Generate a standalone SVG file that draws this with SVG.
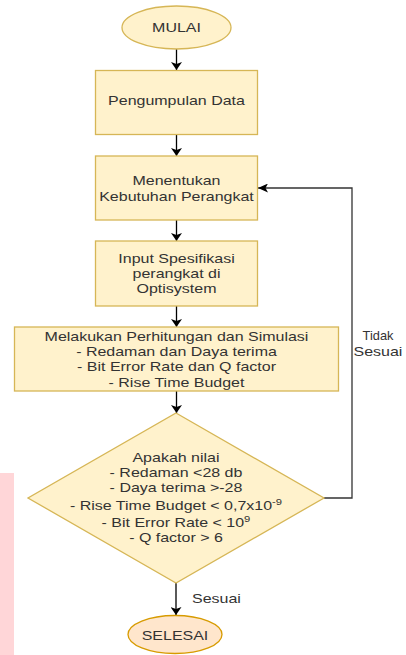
<svg xmlns="http://www.w3.org/2000/svg" width="406" height="655" viewBox="0 0 406 655">
<defs>
<style>
.n{fill:#fff2cc;stroke:#d6b656;stroke-width:1.3}
.e{fill:#ffe6cc;stroke:#d79b00;stroke-width:1.3}
.t{font-family:"Liberation Sans",Arial,sans-serif;font-size:12.8px;fill:#333;text-anchor:middle}
.l{font-family:"Liberation Sans",Arial,sans-serif;font-size:12.8px;fill:#333}
.c{fill:none;stroke:#000;stroke-width:1.3}
.g{fill:none;stroke:#333;stroke-width:1.3}
.sup{font-size:9px}
</style>
<marker id="ah" viewBox="0 0 10 10" refX="10" refY="5" markerWidth="8" markerHeight="11" markerUnits="userSpaceOnUse" orient="auto" preserveAspectRatio="none">
<path d="M0,0 L10,5 L0,10 L2.5,5 Z" fill="#000"/>
</marker>
<marker id="ah2" viewBox="0 0 10 10" refX="10" refY="5" markerWidth="10" markerHeight="9" markerUnits="userSpaceOnUse" orient="auto" preserveAspectRatio="none">
<path d="M0,0 L10,5 L0,10 L2.5,5 Z" fill="#000"/>
</marker>
</defs>
<rect x="0" y="473" width="14" height="182" fill="#ffd6d8"/>
<g id="connectors">
<path class="c" d="M176.5,49 L176.5,70" marker-end="url(#ah)"/>
<path class="c" d="M176.5,135 L176.5,156" marker-end="url(#ah)"/>
<path class="c" d="M176.5,220 L176.5,241" marker-end="url(#ah)"/>
<path class="c" d="M176.5,306 L176.5,327" marker-end="url(#ah)"/>
<path class="c" d="M176.5,391 L176.5,413" marker-end="url(#ah)"/>
<path class="c" d="M176,583 L176,615" marker-end="url(#ah)"/>
<path class="g" d="M324,498 L352,498 L352,188 L258,188" marker-end="url(#ah2)"/>
<g transform="translate(378 0)"><text class="t" x="0" y="339.5">Tidak</text><text class="t" x="0" y="355.7" transform="scale(1.25 1)">Sesuai</text></g>
<g transform="translate(192 0) scale(1.25 1)"><text class="l" x="0" y="603.3">Sesuai</text></g>
</g>
<g id="mulai">
<ellipse class="n" cx="176.5" cy="27.5" rx="54.5" ry="21.5"/>
<g transform="translate(176.5 0) scale(1.25 1)"><text class="t" x="0" y="32">MULAI</text></g>
</g>
<g id="pengumpulan">
<rect class="n" x="95.5" y="70.5" width="162" height="64"/>
<g transform="translate(176.5 0) scale(1.25 1)"><text class="t" x="0" y="105">Pengumpulan Data</text></g>
</g>
<g id="menentukan">
<rect class="n" x="95.5" y="156" width="162" height="64"/>
<g transform="translate(176.5 0) scale(1.25 1)"><text class="t" x="0" y="185">Menentukan</text><text class="t" x="0" y="201">Kebutuhan Perangkat</text></g>
</g>
<g id="input">
<rect class="n" x="95.5" y="241" width="162" height="65"/>
<g transform="translate(176.5 0) scale(1.25 1)"><text class="t" x="0" y="262.7">Input Spesifikasi</text><text class="t" x="0" y="277.7">perangkat di</text><text class="t" x="0" y="292.7">Optisystem</text></g>
</g>
<g id="melakukan">
<rect class="n" x="14.5" y="327" width="324" height="64"/>
<g transform="translate(176.5 0) scale(1.25 1)"><text class="t" x="0" y="340.7">Melakukan Perhitungan dan Simulasi</text><text class="t" x="0" y="356">- Redaman dan Daya terima</text><text class="t" x="0" y="371.3">- Bit Error Rate dan Q factor</text><text class="t" x="0" y="386.6">- Rise Time Budget</text></g>
</g>
<g id="keputusan">
<path class="n" d="M176,413 L324,498 L176,583 L28,498 Z"/>
<g transform="translate(176 0) scale(1.25 1)"><text class="t" x="0" y="461.7">Apakah nilai</text><text class="t" x="0" y="476.7">- Redaman &lt;28 db</text><text class="t" x="0" y="491.7">- Daya terima &gt;-28</text><text class="t" x="0" y="510">- Rise Time Budget &lt; 0,7x10<tspan class="sup" dy="-5">-9</tspan></text><text class="t" x="0" y="526.7">- Bit Error Rate &lt; 10<tspan class="sup" dy="-5">9</tspan></text><text class="t" x="0" y="541.7">- Q factor &gt; 6</text></g>
</g>
<g id="selesai">
<ellipse class="e" cx="175" cy="634.5" rx="47" ry="19"/>
<g transform="translate(175 0) scale(1.25 1)"><text class="t" x="0" y="640.5">SELESAI</text></g>
</g>
</svg>
